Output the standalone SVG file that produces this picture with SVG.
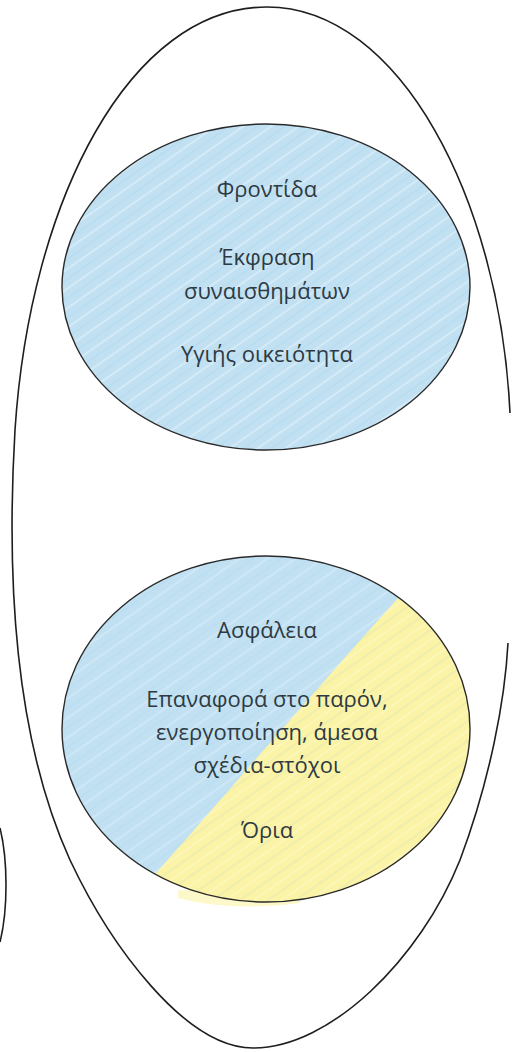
<svg xmlns="http://www.w3.org/2000/svg" width="518" height="1052" viewBox="0 0 518 1052">
  <style>
    .line { fill: none; stroke: #1e1e1e; stroke-width: 1.6; }
    .ring { fill: none; stroke: #2a2a2a; stroke-width: 1.4; }
    .lbl { font-family: "Open Sans", "Noto Sans", sans-serif; font-size: 22px; fill: #2e3a42; text-anchor: middle; }
  </style>
  <defs>
    <pattern id="hatch" width="16" height="16" patternUnits="userSpaceOnUse" patternTransform="rotate(-35)">
      <rect width="16" height="16" fill="none"/>
      <line x1="0" y1="3" x2="16" y2="3" stroke="#ffffff" stroke-width="2" opacity="0.3"/>
      <line x1="0" y1="11" x2="16" y2="11" stroke="#9fcbe8" stroke-width="1.2" opacity="0.3"/>
    </pattern>
    <clipPath id="clipBottom">
      <ellipse cx="266" cy="729" rx="204" ry="173"/>
    </clipPath>
  </defs>

  <rect width="518" height="1052" fill="#ffffff"/>

  <g id="container">
    <path class="line" d="M 510,413 C 500,200 400,7 267,7 C 130,7 30,200 15,430 C 5,600 20,750 70,860 C 110,945 185,1048 253,1048 C 330,1048 420,960 460,860 C 490,780 505,700 508,643"/>
  </g>

  <g id="edge-fragment">
    <path class="line" d="M 0,828 C 8,860 8,910 0,942"/>
  </g>

  <g id="connectors"/>

  <g id="node-care">
    <ellipse cx="266" cy="287" rx="204" ry="163" fill="#c1e1f3"/>
    <ellipse cx="266" cy="287" rx="204" ry="163" fill="url(#hatch)"/>
    <ellipse class="ring" cx="266" cy="287" rx="204" ry="163"/>
    <text class="lbl" x="267" y="197">Φροντίδα</text>
    <text class="lbl" x="267" y="265">Έκφραση</text>
    <text class="lbl" x="267" y="299">συναισθημάτων</text>
    <text class="lbl" x="267" y="362">Υγιής οικειότητα</text>
  </g>

  <g id="node-safety">
    <path d="M 178,898 Q 230,912 300,903 L 300,895 L 178,890 Z" fill="#fbf3a6" opacity="0.6"/>
    <g clip-path="url(#clipBottom)">
      <rect x="60" y="550" width="420" height="360" fill="#c1e1f3"/>
      <path d="M 400,596 C 340,662 260,755 150,880 L 170,910 L 480,910 L 480,550 L 420,550 Z" fill="#fbf3a6"/>
      <rect x="60" y="550" width="420" height="360" fill="url(#hatch)" opacity="0.7"/>
    </g>
    <ellipse class="ring" cx="266" cy="729" rx="204" ry="173"/>
    <text class="lbl" x="267" y="638">Ασφάλεια</text>
    <text class="lbl" x="267" y="707">Επαναφορά στο παρόν,</text>
    <text class="lbl" x="267" y="740">ενεργοποίηση, άμεσα</text>
    <text class="lbl" x="267" y="773">σχέδια-στόχοι</text>
    <text class="lbl" x="267" y="838">Όρια</text>
  </g>
</svg>
